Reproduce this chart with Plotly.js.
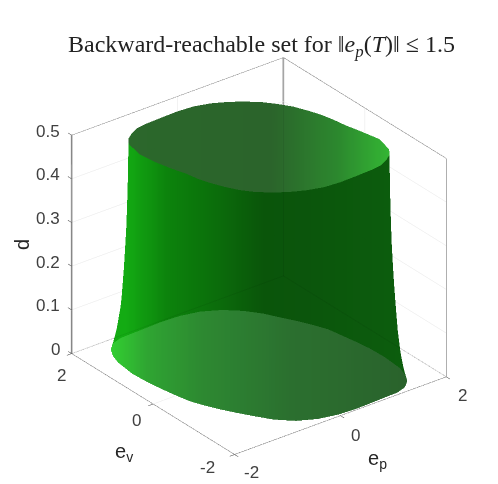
<!DOCTYPE html>
<html>
<head>
<meta charset="utf-8">
<script src="https://cdn.plot.ly/plotly-3.0.1.min.js"></script>
<style>html,body{margin:0;padding:0;background:#fff}</style>
</head>
<body>
<div id="plot1" style="width:498px;height:484px"></div>
<script>
// outline of the set, polar radius per angle
var thetaDeg = [0,10,20,30,40,50,60,70,80,90,100,110,120,125,130,135,140,150,160,170,
                180,190,200,210,220,230,240,250,260,270,280,290,300,305,310,315,320,330,340,350,360];
var rTop = [1.40,1.37,1.35,1.36,1.37,1.40,1.43,1.48,1.54,1.60,1.65,1.72,1.85,1.92,1.95,1.97,1.95,1.80,1.62,1.48,
            1.38,1.36,1.35,1.36,1.39,1.42,1.45,1.49,1.54,1.60,1.65,1.72,1.85,1.92,1.95,1.97,1.95,1.82,1.60,1.46,1.40];
var rBot = [1.55,1.53,1.50,1.50,1.53,1.62,1.72,1.82,1.90,1.95,2.00,2.08,2.24,2.29,2.27,2.20,2.11,1.92,1.75,1.63,
            1.56,1.53,1.50,1.50,1.53,1.60,1.72,1.83,1.90,1.95,2.00,2.08,2.24,2.29,2.27,2.20,2.11,1.90,1.74,1.62,1.55];

// how far the wall has flared toward the bottom outline, per height
var dLevels = [0,0.025,0.05,0.1,0.15,0.2,0.25,0.3,0.35,0.4,0.45,0.5];
var flare = [1,0.85,0.72,0.54,0.42,0.31,0.22,0.14,0.09,0.05,0.02,0];

var capRings = [0,0.25,0.5,0.75,1];

var epTicks = [-2,0,2];
var evTicks = [-2,0,2];
var dTicks = [0,0.1,0.2,0.3,0.4,0.5];

var wallScale = [[0,"#12aa12"],[0.15,"#0b820b"],[0.3,"#0a700a"],[0.5,"#095409"],[0.65,"#0a540b"],[1,"#0b5c0c"]];
var topScale = [[0,"#2c642c"],[0.55,"#2c642c"],[0.8,"#2d8a2f"],[1,"#35bb35"]];
var botScale = [[0,"#33d033"],[0.12,"#30a534"],[0.3,"#2e8a33"],[0.6,"#2c7030"],[1,"#2b622d"]];

// colour follows horizontal position on screen
function shade(x, y) { return 258 + 52.75 * x - 40.75 * y; }

function rad(d) { return d * Math.PI / 180; }

var wallX = [], wallY = [], wallZ = [], wallC = [];
for (var i = 0; i < dLevels.length; i++) {
    var rx = [], ry = [], rz = [], rc = [];
    for (var j = 0; j < thetaDeg.length; j++) {
        var r = rTop[j] + (rBot[j] - rTop[j]) * flare[i];
        var px = r * Math.cos(rad(thetaDeg[j]));
        var py = r * Math.sin(rad(thetaDeg[j]));
        rx.push(px); ry.push(py); rz.push(dLevels[i]); rc.push(shade(px, py));
    }
    wallX.push(rx); wallY.push(ry); wallZ.push(rz); wallC.push(rc);
}

function capTrace(radii, level, scale, cmin, cmax, op, sceneName) {
    var cx = [], cy = [], cz = [], cc = [];
    for (var i = 0; i < capRings.length; i++) {
        var rx = [], ry = [], rz = [], rc = [];
        for (var j = 0; j < thetaDeg.length; j++) {
            var px = capRings[i] * radii[j] * Math.cos(rad(thetaDeg[j]));
            var py = capRings[i] * radii[j] * Math.sin(rad(thetaDeg[j]));
            rx.push(px); ry.push(py); rz.push(level); rc.push(shade(px, py));
        }
        cx.push(rx); cy.push(ry); cz.push(rz); cc.push(rc);
    }
    return {
        type: "surface", x: cx, y: cy, z: cz, surfacecolor: cc,
        colorscale: scale, cmin: cmin, cmax: cmax, showscale: false, opacity: op,
        lighting: {ambient: 1, diffuse: 0, specular: 0, fresnel: 0, roughness: 1},
        hoverinfo: "skip", scene: sceneName
    };
}

// box edges, as in the picture
var boxEp = [-2,2,null,2,2,null,-2,2,null,2,2,null,-2,-2,null,-2,2,null,2,2];
var boxEv = [2,2,null,2,-2,null,-2,-2,null,-2,2,null,-2,2,null,2,2,null,-2,-2];
var boxD  = [0.5,0.5,null,0.5,0.5,null,0,0,null,0,0,null,0,0,null,0,0,null,0,0.5];

// short tick marks just outside the box
var tickEp = [], tickEv = [], tickD = [];
epTicks.forEach(function (t) {
    tickEp.push(t, t, null); tickEv.push(-2, -2.09, null); tickD.push(0, 0, null);
});
evTicks.forEach(function (t) {
    tickEp.push(-2, -2.09, null); tickEv.push(t, t, null); tickD.push(0, 0, null);
});
dTicks.forEach(function (t) {
    tickEp.push(-2, -2, null); tickEv.push(2, 2.09, null); tickD.push(t, t, null);
});

var data = [
    {type: "scatter3d", mode: "lines", x: boxEp, y: boxEv, z: boxD,
     line: {color: "#333333", width: 1}, hoverinfo: "skip", showlegend: false, scene: "scene"},
    {type: "scatter3d", mode: "lines", x: [-2,-2,null,2,2], y: [2,2,null,2,2], z: [0,0.5,null,0,0.5],
     line: {color: "#7a7a7a", width: 3}, hoverinfo: "skip", showlegend: false, scene: "scene"},
    {type: "surface", x: wallX, y: wallY, z: wallZ, surfacecolor: wallC,
     colorscale: wallScale, cmin: 125, cmax: 400, showscale: false, opacity: 0.95,
     lighting: {ambient: 1, diffuse: 0, specular: 0, fresnel: 0, roughness: 1},
     hoverinfo: "skip", scene: "scene"},
    capTrace(rTop, 0.5, topScale, 125, 390, 0.95, "scene"),
    capTrace(rBot, 0, botScale, 110, 410, 0.95, "scene2"),
    // back edges seen faintly through the solid
    {type: "scatter3d", mode: "lines", x: [2,2,null,-2,2,2], y: [2,2,null,2,2,-2], z: [0,0.5,null,0,0,0],
     opacity: 0.06, line: {color: "#000000", width: 2}, hoverinfo: "skip", showlegend: false, scene: "scene2"},
    {type: "scatter3d", mode: "lines", x: tickEp, y: tickEv, z: tickD,
     line: {color: "#404040", width: 1}, hoverinfo: "skip", showlegend: false, scene: "scene2"}
];

var tickFont = {family: "Liberation Sans, Arial, sans-serif", size: 17, color: "#404040"};
var titleFont = {family: "Liberation Sans, Arial, sans-serif", size: 20, color: "#262626"};
var epShiftX = [17,15.5,16], epShiftY = [-18,-19.5,-19];
var evShiftX = [-27,-17,-10], evShiftY = [-13,-16.5,-22];
var notes = [];
epTicks.forEach(function (t, i) {
    notes.push({x: t, y: -2, z: 0, text: String(t), showarrow: false, font: tickFont, xshift: epShiftX[i], yshift: epShiftY[i]});
});
evTicks.forEach(function (t, i) {
    notes.push({x: -2, y: t, z: 0, text: String(t), showarrow: false, font: tickFont, xshift: evShiftX[i], yshift: evShiftY[i]});
});
dTicks.forEach(function (t) {
    notes.push({x: -2, y: 2, z: t, text: String(t), showarrow: false, font: tickFont, xanchor: "right", xshift: -10, yshift: 4});
});
notes.push({x: 0, y: -2, z: 0, text: "e<sub>p</sub>", showarrow: false, font: titleFont, xshift: 37, yshift: -44});
notes.push({x: -2, y: 0, z: 0, text: "e<sub>v</sub>", showarrow: false, font: titleFont, xshift: -29, yshift: -48});
notes.push({x: -2, y: 2, z: 0.25, text: "d", showarrow: false, textangle: -90, font: titleFont, xshift: -49});

var cam = {eye: {x: -0.768, y: -0.998, z: 0.683}, center: {x: 0, y: 0, z: 0}, up: {x: 0, y: 0, z: 1},
           projection: {type: "orthographic"}};
var dom = {x: [0.04, 1], y: [0, 0.942]};

function axis(vals, rng) {
    return {range: rng, tickvals: vals, showticklabels: false, ticks: "", showline: false, showbackground: false,
            showgrid: true, gridcolor: "#e6e6e6", gridwidth: 1, zeroline: false, showspikes: false, title: {text: ""}};
}
function hidden(rng) {
    return {range: rng, visible: false, showgrid: false, showline: false, showbackground: false,
            zeroline: false, showticklabels: false, showspikes: false, title: {text: ""}};
}

var layout = {
    width: 498, height: 484, margin: {l: 0, r: 0, t: 0, b: 0},
    paper_bgcolor: "#ffffff", showlegend: false,
    title: {text: "Backward-reachable set for ‖<i>e<sub>p</sub></i>(<i>T</i>)‖ ≤ 1.5",
            font: {family: "Liberation Serif, serif", size: 24, color: "#222222"},
            x: 0.525, xanchor: "center", y: 0.91, yanchor: "middle"},
    scene: {domain: dom, camera: cam, aspectmode: "manual", aspectratio: {x: 1.172, y: 1.172, z: 1.09},
            bgcolor: "rgba(0,0,0,0)",
            xaxis: axis(epTicks, [-2, 2]), yaxis: axis(evTicks, [-2, 2]), zaxis: axis(dTicks, [0, 0.5]),
            annotations: notes},
    // overlay scene: same scale per unit, wider range so the ticks are not clipped
    scene2: {domain: dom, camera: cam, aspectmode: "manual", aspectratio: {x: 1.2892, y: 1.2892, z: 1.308},
             bgcolor: "rgba(0,0,0,0)",
             xaxis: hidden([-2.2, 2.2]), yaxis: hidden([-2.2, 2.2]), zaxis: hidden([-0.05, 0.55])}
};

Plotly.newPlot("plot1", data, layout, {displayModeBar: false});
</script>
</body>
</html>
